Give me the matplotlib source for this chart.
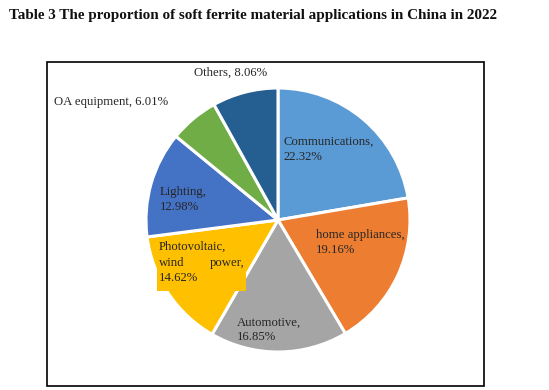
import matplotlib.pyplot as plt
from matplotlib.patches import Rectangle

categories = ["Communications", "home appliances", "Automotive",
              "Photovoltaic, wind power", "Lighting", "OA equipment", "Others"]
values = [22.32, 19.16, 16.85, 14.62, 12.98, 6.01, 8.06]
colors = ["#5B9BD5", "#ED7D31", "#A5A5A5", "#FFC000", "#4472C4", "#70AD47", "#255E91"]
title = "Table 3 The proportion of soft ferrite material applications in China in 2022"

W, H = 549, 390
fig = plt.figure(figsize=(W / 100, H / 100), dpi=100)
ax = fig.add_axes([0, 0, 1, 1])

ax.pie(values, colors=colors, startangle=90, counterclock=False,
       center=(278, H - 220), radius=132,
       wedgeprops=dict(edgecolor="white", linewidth=2.2))
ax.set_xlim(0, W)
ax.set_ylim(0, H)
ax.set_aspect("auto")
ax.axis("off")

# frame
ax.add_patch(Rectangle((46.5, H - 386), 437, 324, fill=False, edgecolor="black", linewidth=1.2))

font = dict(family="Liberation Serif", fontsize=9.2, color="#262626")

def lbl(i):
    return f"{values[i]:.2f}%"

LS = 1.32
ax.text(283, H - 149.5, categories[0] + ",\n" + lbl(0), va="center", ha="left", linespacing=LS, **font)
ax.text(316, H - 242.5, categories[1] + ",\n" + lbl(1), va="center", ha="left", linespacing=LS, **font)
ax.text(237, H - 330, categories[2] + ",\n" + lbl(2), va="center", ha="left", linespacing=LS, **font)
ax.text(160, H - 199.5, categories[4] + ",\n" + lbl(4), va="center", ha="left", linespacing=LS, **font)
ax.text(54, H - 102, categories[5] + ", " + lbl(5), va="center", ha="left", **font)
ax.text(194, H - 73, categories[6] + ", " + lbl(6), va="center", ha="left", **font)

# justified photovoltaic label with its yellow box
ax.add_patch(Rectangle((157, H - 291), 89, 53, facecolor=colors[3], edgecolor="none", zorder=1.5))
ax.text(159, H - 247, "Photovoltaic,", va="center", ha="left", zorder=3, **font)
ax.text(159, H - 263, "wind", va="center", ha="left", zorder=3, **font)
ax.text(244, H - 263, "power,", va="center", ha="right", zorder=3, **font)
ax.text(159, H - 278, lbl(3), va="center", ha="left", zorder=3, **font)

fig.text(253 / W, 1 - 16 / H, title, ha="center", va="center",
         family="Liberation Serif", fontweight="bold", fontsize=10.9, color="#111111")

fig.savefig("out.png", dpi=100)
